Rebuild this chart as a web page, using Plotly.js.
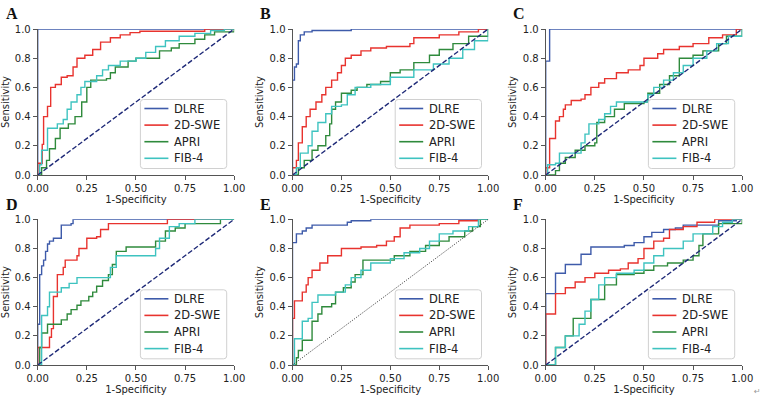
<!DOCTYPE html>
<html>
<head>
<meta charset="utf-8">
<script src="https://cdn.plot.ly/plotly-3.0.1.min.js"></script>
<style>html,body{margin:0;padding:0;background:#fff;}#chart{width:764px;height:396px;}</style>
</head>
<body>
<div id="chart"></div>
<script>
// ---------- DATA (1-Specificity = fpr, Sensitivity = tpr) ----------
const seriesNames = ["DLRE", "2D-SWE", "APRI", "FIB-4"];
const panelLabels = ["A", "B", "C", "D", "E", "F"];
const xTickVals = [0, 0.25, 0.5, 0.75, 1];
const xTickText = ["0.00", "0.25", "0.50", "0.75", "1.00"];
const yTickVals = [0, 0.2, 0.4, 0.6, 0.8, 1];
const yTickText = ["0.0", "0.2", "0.4", "0.6", "0.8", "1.0"];
const diagonal = [0, 1];

// Panel A
const a_dlre_fpr = [0, 0, 1];
const a_dlre_tpr = [0, 1, 1];
const a_swe_fpr = [0, 0, 0.023, 0.03, 0.05, 0.066, 0.09, 0.12, 0.15, 0.18, 0.2, 0.24, 0.28, 0.32, 0.37, 0.42, 0.47, 0.52, 0.85, 1];
const a_swe_tpr = [0, 0.08, 0.21, 0.4, 0.47, 0.6, 0.62, 0.67, 0.68, 0.74, 0.8, 0.82, 0.86, 0.91, 0.94, 0.96, 0.975, 0.985, 1, 1];
const a_apri_fpr = [0, 0.02, 0.045, 0.06, 0.09, 0.114, 0.156, 0.19, 0.224, 0.25, 0.27, 0.35, 0.37, 0.395, 0.46, 0.5, 0.62, 0.68, 0.72, 0.8, 0.85, 0.9, 1];
const a_apri_tpr = [0, 0.05, 0.1, 0.18, 0.25, 0.32, 0.35, 0.4, 0.5, 0.6, 0.65, 0.66, 0.7, 0.74, 0.78, 0.8, 0.85, 0.87, 0.9, 0.93, 0.96, 0.98, 1];
const a_fib_fpr = [0, 0.01, 0.02, 0.05, 0.1, 0.13, 0.15, 0.17, 0.2, 0.22, 0.24, 0.3, 0.33, 0.36, 0.42, 0.5, 0.55, 0.6, 0.65, 0.72, 0.8, 0.88, 0.95, 1];
const a_fib_tpr = [0, 0.07, 0.17, 0.32, 0.35, 0.38, 0.45, 0.5, 0.55, 0.6, 0.64, 0.68, 0.72, 0.75, 0.78, 0.8, 0.84, 0.88, 0.92, 0.95, 0.97, 0.99, 1, 1];

// Panel B
const b_dlre_fpr = [0, 0, 0.01, 0.02, 0.03, 0.04, 0.06, 0.1, 0.3, 1];
const b_dlre_tpr = [0, 0.65, 0.74, 0.76, 0.92, 0.96, 0.98, 0.99, 1, 1];
const b_swe_fpr = [0, 0, 0.02, 0.03, 0.05, 0.07, 0.09, 0.12, 0.15, 0.17, 0.2, 0.23, 0.25, 0.27, 0.3, 0.35, 0.4, 0.48, 0.6, 0.62, 0.75, 0.85, 0.95, 1];
const b_swe_tpr = [0, 0.05, 0.1, 0.22, 0.33, 0.4, 0.45, 0.5, 0.55, 0.6, 0.65, 0.7, 0.75, 0.8, 0.82, 0.85, 0.87, 0.88, 0.9, 0.94, 0.96, 0.98, 1, 1];
const b_apri_fpr = [0, 0.03, 0.06, 0.1, 0.13, 0.17, 0.19, 0.2, 0.22, 0.25, 0.3, 0.33, 0.38, 0.45, 0.5, 0.55, 0.62, 0.7, 0.75, 0.82, 0.9, 1];
const b_apri_tpr = [0, 0.05, 0.1, 0.17, 0.2, 0.27, 0.35, 0.45, 0.5, 0.56, 0.58, 0.6, 0.62, 0.64, 0.7, 0.72, 0.77, 0.82, 0.86, 0.9, 0.95, 1];
const b_fib_fpr = [0, 0.02, 0.04, 0.08, 0.1, 0.13, 0.17, 0.2, 0.25, 0.28, 0.32, 0.4, 0.5, 0.62, 0.72, 0.8, 0.87, 0.93, 1];
const b_fib_tpr = [0, 0.05, 0.15, 0.2, 0.3, 0.36, 0.42, 0.47, 0.48, 0.55, 0.6, 0.62, 0.67, 0.72, 0.76, 0.8, 0.86, 0.92, 1];

// Panel C
const c_dlre_fpr = [0, 0, 0.02, 1];
const c_dlre_tpr = [0, 0.78, 1, 1];
const c_swe_fpr = [0, 0, 0.02, 0.05, 0.07, 0.09, 0.1, 0.13, 0.18, 0.2, 0.23, 0.27, 0.3, 0.36, 0.42, 0.48, 0.5, 0.57, 0.6, 0.68, 0.75, 0.83, 0.9, 0.97, 1];
const c_swe_tpr = [0, 0.05, 0.25, 0.37, 0.4, 0.45, 0.48, 0.51, 0.52, 0.55, 0.6, 0.63, 0.66, 0.7, 0.72, 0.75, 0.8, 0.83, 0.86, 0.88, 0.9, 0.94, 0.96, 1, 1];
const c_apri_fpr = [0, 0.05, 0.07, 0.1, 0.15, 0.2, 0.25, 0.26, 0.3, 0.35, 0.4, 0.5, 0.52, 0.58, 0.63, 0.68, 0.75, 0.8, 0.88, 0.92, 1];
const c_apri_tpr = [0, 0.03, 0.08, 0.12, 0.17, 0.2, 0.22, 0.36, 0.4, 0.45, 0.49, 0.5, 0.56, 0.62, 0.68, 0.8, 0.82, 0.85, 0.9, 0.95, 1];
const c_fib_fpr = [0, 0.01, 0.05, 0.07, 0.18, 0.2, 0.22, 0.27, 0.3, 0.33, 0.36, 0.5, 0.52, 0.55, 0.6, 0.65, 0.7, 0.75, 0.82, 0.87, 0.93, 1];
const c_fib_tpr = [0, 0.07, 0.08, 0.15, 0.22, 0.28, 0.35, 0.38, 0.42, 0.47, 0.5, 0.5, 0.55, 0.6, 0.65, 0.7, 0.75, 0.8, 0.85, 0.9, 0.95, 1];

// Panel D
const d_dlre_fpr = [0, 0, 0.01, 0.02, 0.03, 0.04, 0.05, 0.06, 0.08, 0.12, 0.17, 0.18, 1];
const d_dlre_tpr = [0, 0.28, 0.62, 0.68, 0.72, 0.78, 0.83, 0.85, 0.87, 0.96, 0.97, 1, 1];
const d_swe_fpr = [0, 0, 0.06, 0.07, 0.08, 0.1, 0.13, 0.14, 0.2, 0.21, 0.25, 0.3, 0.32, 0.36, 0.66, 1];
const d_swe_tpr = [0, 0.12, 0.19, 0.25, 0.47, 0.62, 0.67, 0.72, 0.75, 0.8, 0.87, 0.88, 0.93, 0.97, 1, 1];
const d_apri_fpr = [0, 0.01, 0.02, 0.05, 0.12, 0.15, 0.17, 0.2, 0.22, 0.26, 0.28, 0.3, 0.33, 0.36, 0.38, 0.4, 0.45, 0.6, 0.65, 0.7, 0.75, 0.93, 1];
const d_apri_tpr = [0, 0.12, 0.22, 0.28, 0.31, 0.35, 0.38, 0.41, 0.44, 0.47, 0.5, 0.54, 0.58, 0.62, 0.69, 0.78, 0.81, 0.85, 0.92, 0.94, 0.97, 1, 1];
const d_fib_fpr = [0, 0.02, 0.05, 0.06, 0.12, 0.16, 0.2, 0.37, 0.4, 0.6, 0.62, 0.67, 0.72, 0.8, 1];
const d_fib_tpr = [0, 0.34, 0.4, 0.5, 0.53, 0.56, 0.6, 0.67, 0.75, 0.8, 0.87, 0.95, 0.97, 1, 1];

// Panel E
const e_dlre_fpr = [0, 0, 0.02, 0.05, 0.07, 0.1, 0.28, 0.3, 0.4, 1];
const e_dlre_tpr = [0, 0.84, 0.9, 0.92, 0.94, 0.96, 0.98, 0.99, 1, 1];
const e_swe_fpr = [0, 0, 0.01, 0.05, 0.07, 0.08, 0.1, 0.14, 0.18, 0.25, 0.35, 0.43, 0.48, 0.52, 0.55, 0.6, 0.75, 0.85, 0.95, 1];
const e_swe_tpr = [0, 0.32, 0.44, 0.5, 0.55, 0.6, 0.65, 0.7, 0.75, 0.8, 0.81, 0.82, 0.85, 0.88, 0.94, 0.96, 0.97, 0.99, 1, 1];
const e_apri_fpr = [0, 0.02, 0.03, 0.05, 0.1, 0.13, 0.15, 0.2, 0.22, 0.26, 0.3, 0.32, 0.36, 0.52, 0.6, 0.68, 0.75, 0.8, 0.88, 0.92, 0.96, 1];
const e_apri_tpr = [0, 0.05, 0.1, 0.17, 0.3, 0.35, 0.4, 0.42, 0.5, 0.53, 0.57, 0.62, 0.72, 0.75, 0.78, 0.82, 0.85, 0.88, 0.92, 0.95, 1, 1];
const e_fib_fpr = [0, 0.01, 0.05, 0.08, 0.1, 0.13, 0.22, 0.27, 0.3, 0.35, 0.4, 0.5, 0.57, 0.65, 0.7, 0.75, 0.82, 0.9, 0.95, 1];
const e_fib_tpr = [0, 0.18, 0.3, 0.32, 0.43, 0.48, 0.5, 0.55, 0.6, 0.65, 0.7, 0.73, 0.77, 0.8, 0.85, 0.9, 0.92, 0.95, 1, 1];

// Panel F
const f_dlre_fpr = [0, 0, 0.05, 0.1, 0.18, 0.23, 0.4, 0.45, 0.5, 0.54, 0.6, 0.66, 0.7, 0.88, 0.97, 1];
const f_dlre_tpr = [0, 0.49, 0.63, 0.69, 0.76, 0.81, 0.82, 0.84, 0.88, 0.91, 0.93, 0.94, 0.96, 0.99, 1, 1];
const f_swe_fpr = [0, 0, 0.05, 0.1, 0.15, 0.2, 0.25, 0.32, 0.38, 0.42, 0.47, 0.5, 0.55, 0.6, 0.63, 0.7, 0.77, 0.86, 1];
const f_swe_tpr = [0, 0.35, 0.49, 0.53, 0.57, 0.6, 0.63, 0.65, 0.66, 0.7, 0.73, 0.8, 0.85, 0.87, 0.93, 0.95, 0.98, 1, 1];
const f_apri_fpr = [0, 0.05, 0.1, 0.14, 0.23, 0.3, 0.36, 0.45, 0.5, 0.55, 0.62, 0.7, 0.75, 0.78, 0.8, 0.88, 1];
const f_apri_tpr = [0, 0.12, 0.2, 0.32, 0.45, 0.55, 0.62, 0.63, 0.65, 0.68, 0.7, 0.72, 0.75, 0.82, 0.9, 0.97, 1];
const f_fib_fpr = [0, 0.05, 0.1, 0.17, 0.2, 0.23, 0.27, 0.3, 0.36, 0.45, 0.5, 0.55, 0.6, 0.7, 0.75, 0.85, 0.9, 0.95, 1];
const f_fib_tpr = [0, 0.12, 0.2, 0.28, 0.37, 0.45, 0.55, 0.6, 0.63, 0.65, 0.7, 0.75, 0.8, 0.85, 0.9, 0.95, 0.98, 1, 1];

// ---------- BUILD ----------
const panelData = [
  [[a_dlre_fpr, a_dlre_tpr], [a_swe_fpr, a_swe_tpr], [a_apri_fpr, a_apri_tpr], [a_fib_fpr, a_fib_tpr]],
  [[b_dlre_fpr, b_dlre_tpr], [b_swe_fpr, b_swe_tpr], [b_apri_fpr, b_apri_tpr], [b_fib_fpr, b_fib_tpr]],
  [[c_dlre_fpr, c_dlre_tpr], [c_swe_fpr, c_swe_tpr], [c_apri_fpr, c_apri_tpr], [c_fib_fpr, c_fib_tpr]],
  [[d_dlre_fpr, d_dlre_tpr], [d_swe_fpr, d_swe_tpr], [d_apri_fpr, d_apri_tpr], [d_fib_fpr, d_fib_tpr]],
  [[e_dlre_fpr, e_dlre_tpr], [e_swe_fpr, e_swe_tpr], [e_apri_fpr, e_apri_tpr], [e_fib_fpr, e_fib_tpr]],
  [[f_dlre_fpr, f_dlre_tpr], [f_swe_fpr, f_swe_tpr], [f_apri_fpr, f_apri_tpr], [f_fib_fpr, f_fib_tpr]]
];

const W = 764, H = 396;
const colors = ["#3E5BAA", "#E8332E", "#2F8A3C", "#3EC3C0"];
// pixel geometry of each panel: [x0, x1, yTop, yBottom]
const geo = [
  [37.7, 234.2, 29, 175], [292.5, 488.2, 29, 175], [545.7, 742.2, 29, 175],
  [37.7, 234.2, 219.3, 365], [292.5, 488.2, 219.3, 365], [545.7, 742.2, 219.3, 365]
];
const px = v => v / W;
const py = v => 1 - v / H;

const traces = [];
const layout = {
  width: W, height: H,
  margin: {l: 0, r: 0, t: 0, b: 0},
  paper_bgcolor: "#fff", plot_bgcolor: "#fff",
  showlegend: false,
  font: {family: "DejaVu Sans", color: "#222"},
  annotations: [], shapes: []
};

function roundedRect(x0, y0, x1, y1, r) {
  const P = (x, y) => px(x).toFixed(5) + "," + py(y).toFixed(5);
  return "M" + P(x0 + r, y0) + " L" + P(x1 - r, y0) + " Q" + P(x1, y0) + " " + P(x1, y0 + r) +
         " L" + P(x1, y1 - r) + " Q" + P(x1, y1) + " " + P(x1 - r, y1) +
         " L" + P(x0 + r, y1) + " Q" + P(x0, y1) + " " + P(x0, y1 - r) +
         " L" + P(x0, y0 + r) + " Q" + P(x0, y0) + " " + P(x0 + r, y0) + " Z";
}

for (let p = 0; p < 6; p++) {
  const sfx = p === 0 ? "" : String(p + 1);
  const xa = "x" + sfx, ya = "y" + sfx;
  const g = geo[p];
  for (let s = 0; s < 4; s++) {
    traces.push({
      type: "scatter", mode: "lines",
      x: panelData[p][s][0], y: panelData[p][s][1],
      xaxis: xa, yaxis: ya, name: seriesNames[s],
      line: {color: colors[s], width: 1.4, shape: "hv"},
      cliponaxis: false, hoverinfo: "skip"
    });
  }
  traces.push({
    type: "scatter", mode: "lines", x: diagonal, y: diagonal,
    xaxis: xa, yaxis: ya, showlegend: false, hoverinfo: "skip",
    line: p === 4 ? {color: "#222", width: 0.9, dash: "1px,1.4px"} : {color: "#1F2A78", width: 1.4, dash: "5px,2.2px"}
  });
  const axCommon = {
    showline: true, linecolor: "#555", linewidth: 1, zeroline: false, showgrid: false,
    ticks: "outside", ticklen: 4, tickcolor: "#555", tickwidth: 1,
    tickfont: {size: 10, family: "DejaVu Sans", color: "#222"}, fixedrange: true
  };
  layout["xaxis" + sfx] = Object.assign({}, axCommon, {
    domain: [px(g[0]), px(g[1])], anchor: ya, range: [0, 1],
    tickvals: xTickVals, ticktext: xTickText,
    title: {text: "1-Specificity", font: {size: 10, family: "DejaVu Sans", color: "#222"}, standoff: 1}
  });
  layout["yaxis" + sfx] = Object.assign({}, axCommon, {
    domain: [py(g[3]), py(g[2])], anchor: xa, range: [0, 1],
    tickvals: yTickVals, ticktext: yTickText,
    title: {text: "Sensitivity", font: {size: 10, family: "DejaVu Sans", color: "#222"}, standoff: 4}
  });

  // legend box (lower right of each panel)
  const lx0 = g[0] + 102.7, lx1 = g[0] + 189, ly0 = g[2] + 70.5, ly1 = ly0 + 69;
  layout.shapes.push({
    type: "path", xref: "paper", yref: "paper", layer: "above",
    path: roundedRect(lx0, ly0, lx1, ly1, 3),
    fillcolor: "rgba(255,255,255,0.9)", line: {color: "#d0d0d0", width: 1}
  });
  for (let s = 0; s < 4; s++) {
    const yy = ly0 + 9 + s * 16.6;
    layout.shapes.push({
      type: "line", xref: "paper", yref: "paper", layer: "above",
      x0: px(lx0 + 4), x1: px(lx0 + 28), y0: py(yy), y1: py(yy),
      line: {color: colors[s], width: 1.6}
    });
    layout.annotations.push({
      text: seriesNames[s], xref: "paper", yref: "paper",
      x: px(lx0 + 32), y: py(yy), xanchor: "left", yanchor: "middle",
      showarrow: false, font: {size: 11.5, family: "DejaVu Sans", color: "#222"}
    });
  }

  layout.annotations.push({
    text: "<b>" + panelLabels[p] + "</b>", xref: "paper", yref: "paper",
    x: px(p % 3 === 0 ? 4 : (p % 3 === 1 ? 258 : 511)),
    y: py(p < 3 ? 13 : 204), xanchor: "left", yanchor: "middle",
    showarrow: false, font: {family: "Liberation Serif", size: 16, color: "#111"}
  });
}
layout.annotations.push({
  text: "↵", xref: "paper", yref: "paper", x: px(757), y: py(391),
  xanchor: "center", yanchor: "middle", showarrow: false,
  font: {size: 8, color: "#999"}
});

Plotly.newPlot("chart", traces, layout, {staticPlot: true, displayModeBar: false});
</script>
</body>
</html>
